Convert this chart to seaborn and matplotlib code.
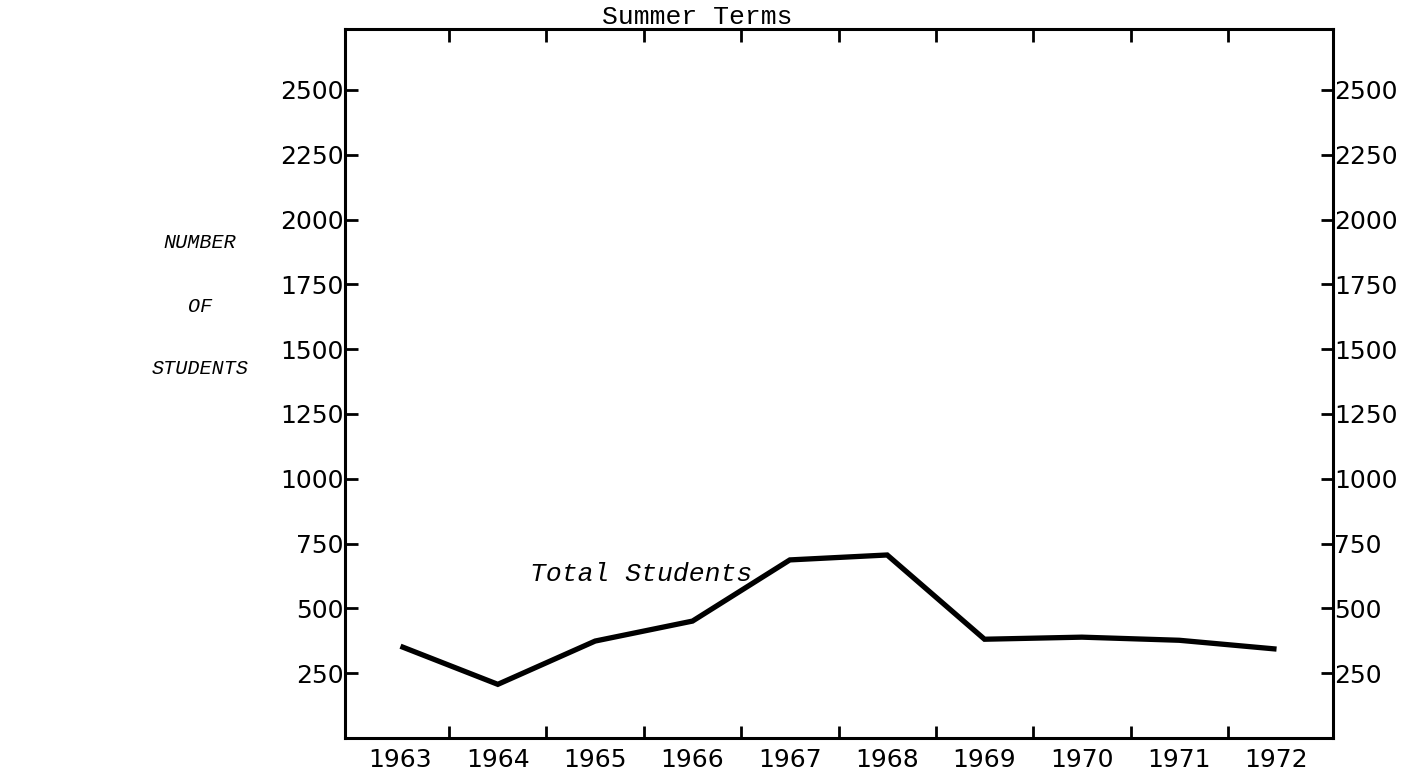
import numpy as np
import pandas as pd
import seaborn as sns
import matplotlib.pyplot as plt
from matplotlib.ticker import FixedLocator

# data
years = [1963, 1964, 1965, 1966, 1967, 1968, 1969, 1970, 1971, 1972]
students = [354, 207, 374, 451, 687, 706, 381, 389, 377, 343]
ytick_vals = [250, 500, 750, 1000, 1250, 1500, 1750, 2000, 2250, 2500]
ylabel_lines = ['NUMBER', 'OF', 'STUDENTS']

df = pd.DataFrame({'year': years, 'students': students})

sns.set_style('ticks')
plt.rcParams['font.family'] = ['DejaVu Sans']
plt.rcParams['text.color'] = 'black'
plt.rcParams['xtick.color'] = 'black'
plt.rcParams['ytick.color'] = 'black'

fig = plt.figure(figsize=(14.22, 7.83), dpi=100)
ax = fig.add_axes([345/1422, 1 - 738/783, (1333 - 345)/1422, (738 - 29)/783])

sns.lineplot(data=df, x='year', y='students', ax=ax, color='black',
             linewidth=3.8, solid_capstyle='butt', solid_joinstyle='miter')

ax.set_xlim(1962.43, 1972.58)
ax.set_ylim(0, 2735)

# year labels centred, tick marks at the year boundaries
ax.set_xticks(years)
ax.set_xticklabels([str(y) for y in years], fontsize=18)
ax.xaxis.set_minor_locator(FixedLocator([y + 0.5 for y in years[:-1]]))
ax.tick_params(axis='x', which='major', length=0, pad=7, labelcolor='black')
ax.tick_params(axis='x', which='minor', direction='in', length=9, width=2,
               top=True, bottom=True)

ax.set_yticks(ytick_vals)
ax.set_yticklabels([str(v) for v in ytick_vals], fontsize=18)
ax.tick_params(axis='y', which='major', direction='in', length=9, width=2,
               left=True, right=True, labelleft=True, labelright=True, pad=1,
               labelcolor='black')

for s in ax.spines.values():
    s.set_linewidth(2.2)
    s.set_color('black')

ax.set_xlabel('')
ax.set_ylabel('')

fig.text(697/1422, 1 - 17/783, 'Summer Terms', ha='center', va='center',
         fontsize=19, family='Liberation Mono')

ax.text(1964.33, 633, 'Total Students', ha='left', va='center',
        fontsize=19, family='Liberation Mono', style='italic')

for i, line in enumerate(ylabel_lines):
    fig.text(200/1422, 1 - (243 + 63*i)/783, line, ha='center', va='center',
             fontsize=14.5, family='Liberation Mono', style='italic')

fig.savefig('out.png', dpi=100)
